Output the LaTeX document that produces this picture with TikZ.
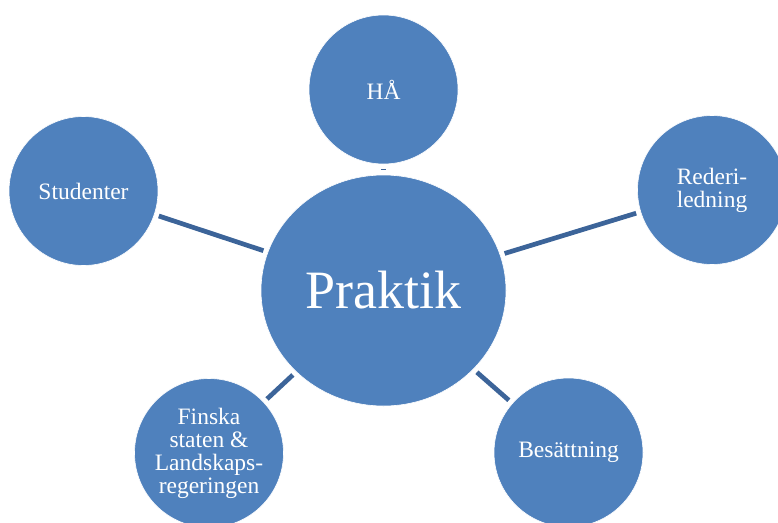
\documentclass[tikz,border=0pt]{standalone}
\usepackage{fontspec}
\setmainfont{Liberation Serif}
\usetikzlibrary{shapes.geometric}
\definecolor{bubble}{HTML}{4F81BD}
\definecolor{link}{HTML}{3C6499}
\tikzset{
  bub/.style={circle, fill=bubble, draw=white, line width=0.6pt, minimum size=149pt, inner sep=0pt, text=white, align=center, font=\fontsize{23.5}{23}\selectfont},
  hub/.style={ellipse, fill=bubble, draw=white, line width=0.6pt, minimum width=245pt, minimum height=231pt, inner sep=0pt, text=white, font=\fontsize{54}{56}\selectfont},
  conn/.style={draw=link, line width=4.7pt, shorten <=4.5pt, shorten >=4.5pt}
}
\begin{document}
\begin{tikzpicture}[x=1pt, y=-1pt]
\useasboundingbox (0,0) rectangle (778,522);
\clip (0,0) rectangle (778,522);
\node[hub] (p) at (383.5,290.5) {Praktik};
\node[bub] (ha) at (383.5,89.5) {HÅ};
\node[bub] (st) at (83.5,191) {Studenter};
\node[bub] (re) at (712,190) {Rederi-\\ledning};
\node[bub] (fi) at (209,453) {Finska\\staten \&\\Landskaps-\\regeringen};
\node[bub] (be) at (568.5,452.5) {Besättning};
\draw[conn] (ha) -- (p);
\draw[conn] (st) -- (p);
\draw[conn] (re) -- (p);
\draw[conn] (fi) -- (p);
\draw[conn] (be) -- (p);
\end{tikzpicture}
\end{document}
